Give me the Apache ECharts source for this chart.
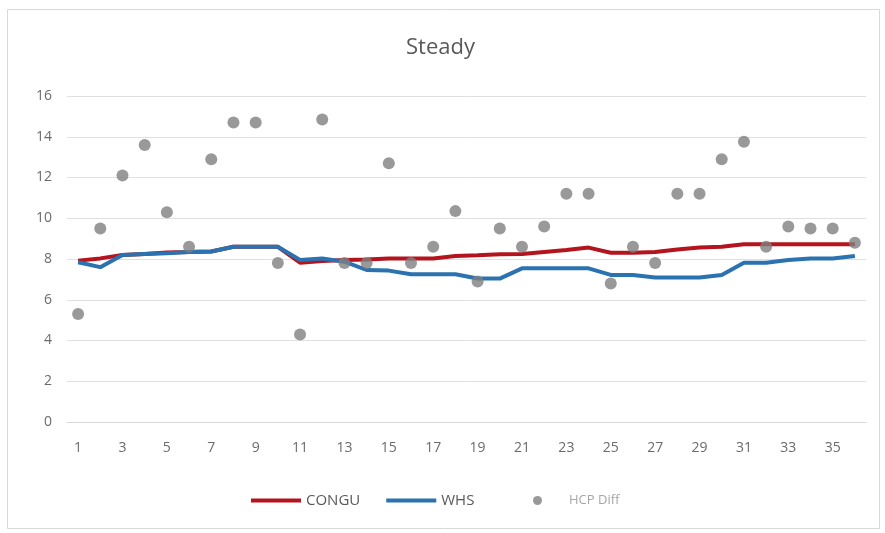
<!DOCTYPE html>
<html>
<head>
<meta charset="utf-8">
<script src="https://cdn.jsdelivr.net/npm/echarts@6/dist/echarts.min.js"></script>
<style>
html,body{margin:0;padding:0;background:#fff;}
#chart{width:885px;height:533px;}
</style>
</head>
<body>
<div id="chart"></div>
<script>
const categories = Array.from({length: 36}, (_, i) => String(i + 1));
const congu = [7.92, 8.03, 8.2, 8.24, 8.32, 8.34, 8.37, 8.6, 8.6, 8.6, 7.82, 7.9,
  7.95, 7.98, 8.02, 8.03, 8.03, 8.15, 8.18, 8.23, 8.24, 8.34, 8.44, 8.56,
  8.31, 8.31, 8.34, 8.47, 8.57, 8.6, 8.72, 8.72, 8.73, 8.73, 8.73, 8.73];
const whs = [7.84, 7.6, 8.2, 8.24, 8.28, 8.34, 8.37, 8.6, 8.6, 8.6, 7.95, 8.02,
  7.87, 7.46, 7.43, 7.25, 7.25, 7.25, 7.04, 7.04, 7.54, 7.54, 7.54, 7.54,
  7.22, 7.22, 7.09, 7.09, 7.09, 7.22, 7.82, 7.82, 7.95, 8.03, 8.03, 8.15];
const hcpDiff = [5.3, 9.5, 12.1, 13.6, 10.3, 8.6, 12.9, 14.7, 14.7, 7.8, 4.3, 14.85,
  7.8, 7.8, 12.7, 7.8, 8.6, 10.35, 6.9, 9.5, 8.6, 9.6, 11.2, 11.2,
  6.8, 8.6, 7.8, 11.2, 11.2, 12.9, 13.75, 8.6, 9.6, 9.5, 9.5, 8.8];
const yTicks = {min: 0, max: 16, interval: 2};

const font = "'Open Sans', 'Noto Sans', sans-serif";
const chart = echarts.init(document.getElementById('chart'), null, {renderer: 'canvas'});
chart.setOption({
  backgroundColor: '#ffffff',
  animation: false,
  graphic: [{
    type: 'rect', z: -10, silent: true,
    shape: {x: 7.5, y: 9.5, width: 872, height: 519},
    style: {fill: '#ffffff', stroke: '#d9d9d9', lineWidth: 1}
  }],
  title: {
    text: 'Steady', left: 401, top: 32,
    textStyle: {fontFamily: font, fontSize: 22, fontWeight: 'normal', color: '#595959'}
  },
  grid: {left: 67, right: 19, top: 96, bottom: 111, containLabel: false},
  legend: [{
    data: ['CONGU', 'WHS'],
    left: 246, top: 488,
    icon: 'rect', itemWidth: 50, itemHeight: 4, itemGap: 26,
    textStyle: {fontFamily: font, fontSize: 15, color: '#595959'}
  }, {
    data: ['HCP Diff'],
    left: 528, top: 489,
    icon: 'circle', itemWidth: 9, itemHeight: 9,
    textStyle: {fontFamily: font, fontSize: 13, color: '#a6a6a6', padding: [0, 0, 0, 22]}
  }],
  xAxis: {
    type: 'category', data: categories, boundaryGap: true,
    axisLine: {show: true, lineStyle: {color: '#d9d9d9', width: 1}},
    axisTick: {show: false},
    axisLabel: {interval: 1, margin: 19, fontFamily: font, fontSize: 14, color: '#6b6b6b'},
    splitLine: {show: false}
  },
  yAxis: {
    type: 'value', min: yTicks.min, max: yTicks.max, interval: yTicks.interval,
    axisLine: {show: false}, axisTick: {show: false},
    axisLabel: {margin: 15, fontFamily: font, fontSize: 14, color: '#6b6b6b'},
    splitLine: {lineStyle: {color: '#e0e0e0', width: 1}}
  },
  series: [{
    name: 'CONGU', type: 'line', data: congu, symbol: 'none', z: 2,
    lineStyle: {color: '#b3141d', width: 4}, itemStyle: {color: '#b3141d'}
  }, {
    name: 'WHS', type: 'line', data: whs, symbol: 'none', z: 3,
    lineStyle: {color: '#2a72b0', width: 4}, itemStyle: {color: '#2a72b0'}
  }, {
    name: 'HCP Diff', type: 'scatter', data: hcpDiff, symbol: 'circle', symbolSize: 12, z: 4,
    itemStyle: {color: '#7f7f7f'}
  }]
});
</script>
</body>
</html>
